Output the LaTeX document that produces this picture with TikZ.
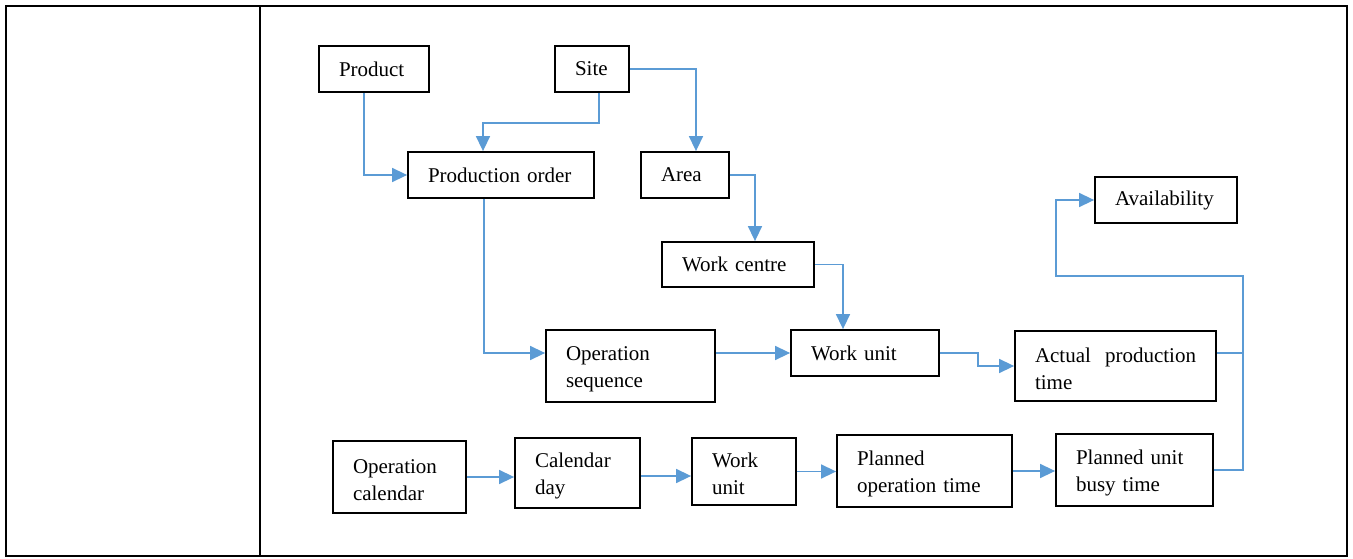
\documentclass[tikz,border=0pt]{standalone}
\usepackage{fontspec}
\setmainfont{Liberation Serif}
\usetikzlibrary{arrows.meta}
\definecolor{linkblue}{RGB}{91,155,213}
% taller first line so two-line labels sit centred like the single-line ones
\newcommand{\firstline}{\rule{0pt}{20pt}}
\begin{document}
\hyphenpenalty=10000
\exhyphenpenalty=10000
\begin{tikzpicture}[x=1pt,y=-1pt,
  box/.style={draw=black, line width=1.8pt, inner xsep=20pt, inner ysep=0pt,
    align=left, font=\fontsize{21}{27}\selectfont},
  link/.style={draw=linkblue, line width=1.5pt},
  arrowlink/.style={link, -{Triangle[length=15pt,width=14pt]}},
  frame/.style={draw=black, line width=2pt}]
\useasboundingbox (0,0) rectangle (1353,559);

% table frame with its narrow left column
\draw[frame] (6,6) rectangle (1347,556);
\draw[frame] (260,6) -- (260,556);

% upper part: order and plant structure
\node[box, text width=70pt,  minimum height=46pt] (product) at (374,69)    {Product};
\node[box, text width=34pt,  minimum height=46pt] (site)    at (592,69)    {Site};
\node[box, text width=146pt, minimum height=46pt] (porder)  at (501,175)   {Production order};
\node[box, text width=48pt,  minimum height=46pt] (area)    at (685,175)   {Area};
\node[box, text width=112pt, minimum height=45pt] (wcentre) at (738,264.5) {Work centre};
\node[box, text width=102pt, minimum height=46pt] (avail)   at (1166,200)  {Availability};

% middle row
\node[box, text width=129pt, minimum height=72pt] (opseq)   at (630.5,366)  {\firstline Operation sequence};
\node[box, text width=108pt, minimum height=46pt] (wunit)   at (865,353)    {Work unit};
\node[box, text width=161pt, minimum height=70pt, align=justify] (actual) at (1115.5,366) {\firstline Actual production time};

% bottom row: planning chain
\node[box, text width=93pt,  minimum height=72pt] (opcal)   at (399.5,477)  {\firstline Operation calendar};
\node[box, text width=85pt,  minimum height=70pt] (calday)  at (577.5,473)  {\firstline Calendar day};
\node[box, text width=64pt,  minimum height=67pt] (wunitb)  at (744,471.5)  {\firstline Work unit};
\node[box, text width=135pt, minimum height=72pt] (plop)    at (924.5,471)  {\firstline Planned operation time};
\node[box, text width=117pt, minimum height=72pt] (plunit)  at (1134.5,470) {\firstline Planned unit busy time};

% rail on the right that feeds Availability
\coordinate (railR) at (1243,276);
\coordinate (railL) at (1056,276);

% connectors
\draw[arrowlink] ([xshift=-10pt]product.south) |- (porder.west);
\draw[arrowlink] ([xshift=7pt]site.south) -- ++(0,30) -| ([xshift=-18pt]porder.north);
\draw[arrowlink] (site.east) -| ([xshift=11pt]area.north);
\draw[arrowlink] (area.east) -| ([xshift=17pt]wcentre.north);
\draw[arrowlink] (wcentre.east) -| ([xshift=-22pt]wunit.north);
\draw[arrowlink] ([xshift=-17pt]porder.south) |- ([yshift=13pt]opseq.west);
\draw[arrowlink] ([yshift=13pt]opseq.east) -- (wunit.west);
\draw[arrowlink] (wunit.east) -- ++(38,0) |- (actual.west);

\draw[arrowlink] (opcal.east) -- (opcal.east -| calday.west);
\draw[arrowlink] ([yshift=-3pt]calday.east) -- ([yshift=-3pt]calday.east -| wunitb.west);
\draw[arrowlink] (wunitb.east) -- (wunitb.east -| plop.west);
\draw[arrowlink] (plop.east) -- (plop.east -| plunit.west);

\draw[arrowlink] (plunit.east) -| (railR) -- (railL) |- (avail.west);
\draw[link] ([yshift=13pt]actual.east) -- ([yshift=13pt]actual.east -| railR);
\end{tikzpicture}
\end{document}
